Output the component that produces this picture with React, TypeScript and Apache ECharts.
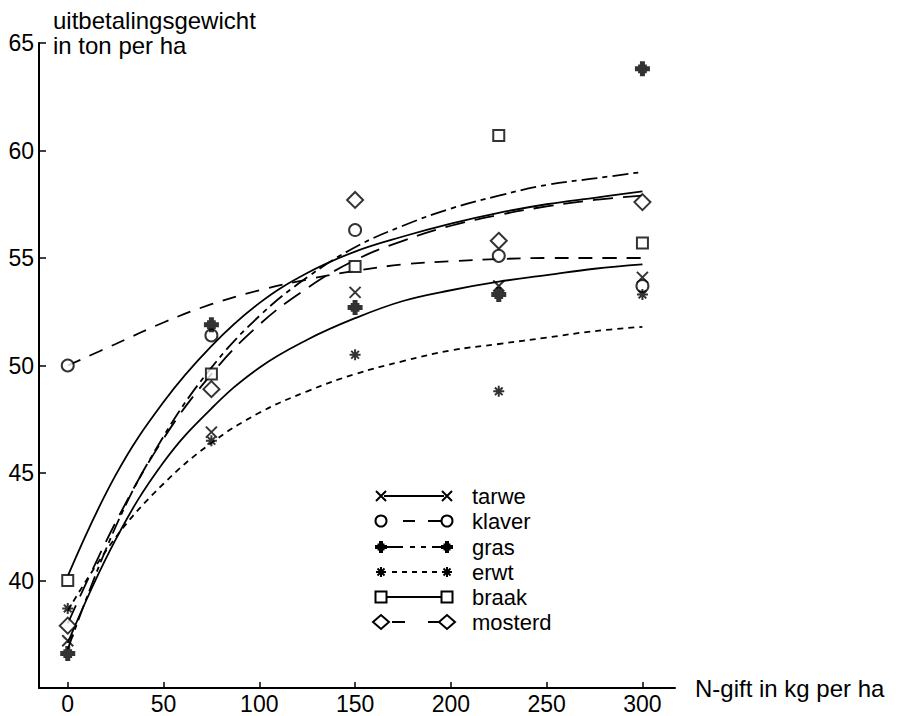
import React, { useEffect, useRef } from "react";
import * as echarts from "echarts";

// ---- data ----
const seriesNames = ["tarwe", "klaver", "gras", "erwt", "braak", "mosterd"];
const nGift = [0, 75, 150, 225, 300];
const tarwe = [37.2, 46.9, 53.4, 53.7, 54.1];
const klaver = [50.0, 51.4, 56.3, 55.1, 53.7];
const gras = [36.6, 51.9, 52.7, 53.3, 63.8];
const erwt = [38.7, 46.5, 50.5, 48.8, 53.3];
const braak = [40.0, 49.6, 54.6, 60.7, 55.7];
const mosterd = [37.9, 48.9, 57.7, 55.8, 57.6];

// fitted curves at these N levels
const fitX = [0, 25, 50, 75, 100, 125, 150, 175, 200, 225, 250, 275, 300];
const tarweFit = [37.1, 41.9, 45.5, 48.0, 49.9, 51.2, 52.2, 53.0, 53.5, 53.9, 54.2, 54.5, 54.7];
const klaverFit = [50.0, 51.0, 52.0, 52.85, 53.5, 54.0, 54.4, 54.7, 54.85, 54.95, 55.0, 55.0, 55.0];
const grasFit = [36.8, 42.5, 46.7, 49.9, 52.3, 54.1, 55.5, 56.5, 57.3, 57.9, 58.4, 58.7, 59.0];
const erwtFit = [38.6, 42.0, 44.5, 46.4, 47.8, 48.8, 49.6, 50.2, 50.7, 51.0, 51.3, 51.6, 51.8];
const braakFit = [40.2, 44.9, 48.3, 50.9, 52.9, 54.3, 55.3, 56.0, 56.6, 57.1, 57.5, 57.8, 58.1];
const mosterdFit = [38.0, 42.7, 46.6, 49.6, 51.9, 53.6, 54.9, 55.8, 56.5, 57.0, 57.4, 57.7, 57.9];

const xTicks = [0, 50, 100, 150, 200, 250, 300];
const yTicks = [40, 45, 50, 55, 60, 65];

const FONT = "'Liberation Sans', Arial, Helvetica, sans-serif";

const X_PATH = "M0 0L10 10M10 0L0 10";
const STAR_PATH = "M5 0V10M0 5H10M1.5 1.5L8.5 8.5M8.5 1.5L1.5 8.5";
const GRAS_PATH = "M4 0H8V2.5H9.5V4H12V8H9.5V9.5H8V12H4V9.5H2.5V8H0V4H2.5V2.5H4Z";

let registered = false;
function registerShapes() {
  if (registered) return;
  registered = true;
  echarts.graphic.registerShape("xMark", echarts.graphic.extendPath(X_PATH, {}));
  echarts.graphic.registerShape("starMark", echarts.graphic.extendPath(STAR_PATH, {}));
  echarts.graphic.registerShape("grasMark", echarts.graphic.extendPath(GRAS_PATH, {}));
}

const styles: any = {
  tarwe: { dash: "solid", symbol: "path://" + X_PATH, size: 11, item: { color: "#000", borderColor: "#000", borderWidth: 2 } },
  klaver: { dash: [14, 10], symbol: "circle", size: 12, item: { color: "#fff", borderColor: "#000", borderWidth: 2 } },
  gras: { dash: [16, 5, 5, 5], symbol: "path://" + GRAS_PATH, size: 15, item: { color: "#000", borderColor: "#000", borderWidth: 0 } },
  erwt: { dash: [6, 5], symbol: "path://" + STAR_PATH, size: 11, item: { color: "#000", borderColor: "#000", borderWidth: 2 } },
  braak: { dash: "solid", symbol: "rect", size: 11, item: { color: "#fff", borderColor: "#000", borderWidth: 2 } },
  mosterd: { dash: [20, 10], symbol: "diamond", size: 16, item: { color: "#fff", borderColor: "#000", borderWidth: 2 } },
};

const pointData: any = { tarwe, klaver, gras, erwt, braak, mosterd };
const fitData: any = { tarwe: tarweFit, klaver: klaverFit, gras: grasFit, erwt: erwtFit, braak: braakFit, mosterd: mosterdFit };

// legend layout (pixels)
const legendRowsY = [496, 521, 547, 572, 597, 622];
const legendSegs: any = {
  tarwe: [[384, 444]],
  klaver: [[403, 415], [428, 444]],
  gras: [[387, 403], [410, 415], [421, 426], [432, 443]],
  erwt: [[392, 397], [402, 407], [412, 417], [422, 427], [432, 437]],
  braak: [[386, 442]],
  mosterd: [[392, 405], [428, 441]],
};

function marker(name: string, cx: number, cy: number): any {
  const st = { stroke: "#000", lineWidth: 2 };
  switch (name) {
    case "tarwe":
      return { type: "xMark", x: cx - 5, y: cy - 5, style: { ...st, fill: null } };
    case "klaver":
      return { type: "circle", shape: { cx, cy, r: 5.5 }, style: { ...st, fill: "#fff" } };
    case "gras":
      return { type: "grasMark", x: cx - 6, y: cy - 6, style: { fill: "#000" } };
    case "erwt":
      return { type: "starMark", x: cx - 5, y: cy - 5, style: { ...st, fill: null } };
    case "braak":
      return { type: "rect", shape: { x: cx - 5.5, y: cy - 5.5, width: 11, height: 11 }, style: { ...st, fill: "#fff" } };
    default:
      return {
        type: "polygon",
        shape: { points: [[cx - 8, cy], [cx, cy - 7], [cx + 8, cy], [cx, cy + 7]] },
        style: { ...st, fill: "#fff" },
      };
  }
}

export default function App() {
  const ref = useRef<HTMLDivElement>(null);
  useEffect(() => {
    document.body.style.margin = "0";
    registerShapes();
    const chart = echarts.init(ref.current!, null, { renderer: "svg" });

    const series: any[] = [];
    seriesNames.forEach((n) => {
      series.push({
        name: n + " curve",
        type: "line",
        data: fitX.map((x, i) => [x, fitData[n][i]]),
        smooth: 0.4,
        showSymbol: false,
        silent: true,
        z: 2,
        lineStyle: { color: "#000", width: 1.8, type: styles[n].dash },
      });
    });
    seriesNames.forEach((n) => {
      series.push({
        name: n,
        type: "scatter",
        data: nGift.map((x, i) => [x, pointData[n][i]]),
        symbol: styles[n].symbol,
        symbolSize: styles[n].size,
        itemStyle: styles[n].item,
        z: 5,
      });
    });

    const graphic: any[] = [
      {
        type: "text",
        left: 53,
        top: 8,
        style: {
          text: "uitbetalingsgewicht\nin ton per ha",
          fontSize: 24,
          lineHeight: 25,
          fontFamily: FONT,
          fill: "#000",
        },
      },
    ];
    seriesNames.forEach((n, i) => {
      const y = legendRowsY[i];
      legendSegs[n].forEach((s: number[]) => {
        graphic.push({
          type: "line",
          shape: { x1: s[0], y1: y, x2: s[1], y2: y },
          style: { stroke: "#000", lineWidth: 2 },
          z: 10,
        });
      });
      graphic.push({ ...marker(n, 381, y), z: 11 });
      graphic.push({ ...marker(n, 447, y), z: 11 });
      graphic.push({
        type: "text",
        x: 472,
        y: y,
        z: 11,
        style: { text: n, fontSize: 22, fontFamily: FONT, fill: "#000", textVerticalAlign: "middle" },
      });
    });

    chart.setOption({
      animation: false,
      backgroundColor: "#fff",
      grid: { left: 39, right: 222, top: 43, bottom: 28, containLabel: false },
      xAxis: {
        type: "value",
        min: -15,
        max: 317,
        name: "N-gift in kg per ha",
        nameLocation: "end",
        nameGap: 20,
        nameTextStyle: { fontSize: 24, fontFamily: FONT, color: "#000", verticalAlign: "middle" },
        axisLine: { show: true, onZero: false, lineStyle: { color: "#000", width: 2 } },
        axisTick: { show: true, inside: true, length: 6, customValues: xTicks, lineStyle: { color: "#000", width: 1.5 } },
        axisLabel: { customValues: xTicks, fontSize: 23, fontFamily: FONT, color: "#000", margin: 4 },
        splitLine: { show: false },
      },
      yAxis: {
        type: "value",
        min: 35,
        max: 65,
        axisLine: { show: true, onZero: false, lineStyle: { color: "#000", width: 2 } },
        axisTick: { show: true, inside: true, length: 7, customValues: yTicks, lineStyle: { color: "#000", width: 1.5 } },
        axisLabel: { customValues: yTicks, fontSize: 23, fontFamily: FONT, color: "#000", margin: 5 },
        splitLine: { show: false },
      },
      graphic,
      series,
    });
    return () => chart.dispose();
  }, []);
  return <div ref={ref} style={{ width: 897, height: 716 }} />;
}
